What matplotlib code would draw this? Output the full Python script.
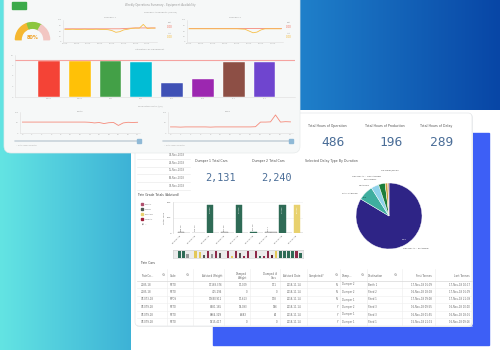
import matplotlib
matplotlib.use('Agg')
import matplotlib.pyplot as plt
import numpy as np
from matplotlib.patches import FancyBboxPatch, Rectangle, Wedge
from matplotlib.colors import LinearSegmentedColormap

# ------------------------------------------------------------ data
util_labels = ['DMP1', 'DMP2', 'SR1', 'SR2', 'RC1', 'RC2', 'SL1', 'SL2']
util_values = [10.3, 10.3, 10.3, 10.1, 4.0, 5.1, 10.1, 10.1]
util_colors = ['#f44336', '#ffc107', '#43a047', '#00bcd4', '#3f51b5', '#9c27b0', '#8d4f45', '#6f45cf']
util_target = 10.6

gauge_value = 80
gauge_bands = [0.0, 0.40, 0.67, 1.0]
gauge_colors = ['#f5b730', '#8cc63f', '#f2c6c2']

d1_target = [60, 60, 60, 60, 60, 60, 60, 60, 60, 60, 60, 60, 60, 60, 60, 61, 62, 63, 64, 64, 64, 64, 64, 64]
d1_actual = [57, 57, 58, 57, 57, 58, 57, 57, 58, 57, 57, 56, 52, 44, 47, 55, 58, 62, 63, 63, 80, 61, 63, 63]
d2_target = [62, 62, 62, 62, 62, 62, 62, 62, 62, 62, 62, 62, 62, 62, 62, 62, 62, 62, 62, 62, 62, 62, 62, 62]
d2_actual = [60, 60, 60, 60, 60, 60, 60, 60, 60, 60, 60, 60, 60, 59, 58, 50, 42, 45, 55, 60, 60, 60, 60, 60]
berth_rate = [52, 52, 52, 52, 52, 52, 52, 52, 52, 52, 52, 52, 52, 52, 51, 48, 50, 45, 49, 50, 36, 48, 51, 50, 51]
shed_rate = [29, 29, 28, 29, 29, 29, 29, 29, 28, 29, 29, 29, 29, 29, 29, 29, 29, 30, 52, 52, 53, 86, 52, 54, 53]

kpi_titles = ['Total Hours of Operation', 'Total Hours of Production', 'Total Hours of Delay']
kpi_values = ['486', '196', '289']
dumper_titles = ['Dumper 1 Total Cars', 'Dumper 2 Total Cars']
dumper_values = ['2,131', '2,240']
date_list = ['03-Nov-2018', '04-Nov-2018', '05-Nov-2018', '06-Nov-2018', '07-Nov-2018']

delay_types = ['OPS DELAY - PLANNED', 'RAIL CARRIER', 'WEATHER', 'EQUIPMENT', 'OPS DELAY - UNPLANNED', 'SJE Delay/Down']
delay_hours = [83.6, 7.5, 3.8, 3.2, 1.3, 0.6]
delay_colors = ['#2e2486', '#3fae9f', '#8fd2ea', '#1b7e3b', '#c9a43c', '#d9957a']

grade_labels = ['CP-003-18', 'CP-003-18', 'CP-088-18', 'CP-096-18', 'CP-071-18',
                'CP-071-18', 'CP-072-18', 'CP-073-18', 'CP-074-18']
grade_tons = [0.5, 0.3, 18.3, 0.6, 18.4, 0.9, 0.4, 18.3, 18.3]
grade_tons_b = [0, 0, 0, 0, 0, 0, 0.8, 0, 0]
grade_type = ['TOTAL', 'TOTAL', 'CORN', 'TOTAL', 'CORN', 'CORN', 'TOTAL', 'CORN', 'POTASH']
grade_text = ['338.18', '245.19', '17,839', '517.28', '17,976', '611.18', '427.7', '17,926', '18,022']
legend_grades = ['TOTAL', 'CORN', 'POTASH', 'WHEAT']
legend_colors = ['#b0506e', '#4f5a55', '#e8d16e', '#a0203a']
bar_colors = {'TOTAL': '#d4d4d4', 'CORN': '#2f6b56', 'POTASH': '#e8d16e'}

mini_vals = [0.0, 0.9, 0.9, 0.5, 0.0, 0.9, 0.8, 0.4, 0.9, 0.5, 0.9, 0.6, 0.0, 0.9, 0.3,
             0.9, 0.6, 0.3, 0.9, 0.0, 0.9, 0.3, 0.2, 0.9, 0.4, 0.9, 0.9, 0.9, 0.9, 0.9, 0.9, 0.6]
mini_cols = ['w', '#2f6b56', '#2f6b56', '#999', 'w', '#e3c85a', '#e3c85a', '#555', '#8e2a4a', '#999',
             '#8e2a4a', '#555', 'w', '#8e2a4a', '#e3c85a', '#8e2a4a', '#555', '#8e2a4a', '#8e2a4a', 'w',
             '#8e2a4a', '#2f6b56', '#8e2a4a', '#8e2a4a', '#5a1a2a', '#e3c85a', '#2f6b56', '#2f6b56',
             '#2f6b56', '#2f6b56', '#8e2a4a', '#2f6b56']

tbl_headers = ['TrainCo...', 'Code', 'Advised Weight', 'Dumped\nWeight', 'Dumped #\nCars', 'Advised Date',
               'Completed?', 'Dump...', 'Destination', 'First Tonnes', 'Last Tonnes']
tbl_rows = [
    ['2185-18', 'RSTO', '17188.376', '17,009', '171', '2018-11-14', 'N', 'Dumper 2', 'Berth 1', '17-Nov-18 01:09', '17-Nov-18 10:17'],
    ['2185-18', 'RSTO', '415.296', '0', '0', '2018-11-14', 'N', 'Dumper 2', 'Shed 2', '16-Nov-18 18:08', '17-Nov-18 01:09'],
    ['CP-073-18', 'MPOS', '17690.912', '17,613', '178', '2018-11-14', 'N', 'Dumper 1', 'Shed 1', '17-Nov-18 09:08', '17-Nov-18 21:09'],
    ['CP-079-18', 'RSTO', '8481.185', '18,093', '186', '2018-11-14', 'Y', 'Dumper 2', 'Shed 3', '16-Nov-18 09:55', '16-Nov-18 10:00'],
    ['CP-079-18', 'RSTO', '8864.329', '6,683', '64', '2018-11-14', 'Y', 'Dumper 1', 'Shed 3', '16-Nov-18 01:55', '16-Nov-18 18:01'],
    ['CP-079-18', 'RSTO', '1815.417', '0', '0', '2018-11-14', 'Y', 'Dumper 1', 'Shed 1', '15-Nov-18 21:15', '16-Nov-18 09:16'],
]

# ------------------------------------------------------------ figure
W, H = 500, 350
fig = plt.figure(figsize=(5, 3.5), dpi=100)


def px_axes(x0, y0, x1, y1):
    return fig.add_axes([x0 / W, 1 - y1 / H, (x1 - x0) / W, (y1 - y0) / H])


bg = fig.add_axes([0, 0, 1, 1])
bg.axis('off')


def hgrad(x0, x1, y0, y1, c0, c1, z=0):
    cmap = LinearSegmentedColormap.from_list('g', [c0, c1])
    bg.imshow(np.linspace(0, 1, 256)[None, :], cmap=cmap, extent=(x0, x1, y1, y0),
              aspect='auto', zorder=z, interpolation='bilinear')


# page background
bg.add_patch(Rectangle((0, 0), W, H, color='white', zorder=-1))
hgrad(0, 131, 0, 350, '#63e4e3', '#3db2d6', z=0)
hgrad(300, 500, 0, 110, '#1f80ca', '#0846a6', z=0)
bg.add_patch(Rectangle((213, 133), 276, 212, color='#3d5ff6', zorder=1))
# card 2
bg.add_patch(FancyBboxPatch((136, 114), 337, 213, boxstyle='round,pad=0,rounding_size=4',
                            fc='#eceef0', ec='none', zorder=2))
bg.add_patch(FancyBboxPatch((135, 113), 337, 213, boxstyle='round,pad=0,rounding_size=4',
                            fc='white', ec='#e4e6e9', lw=0.5, zorder=3))
# card 1
bg.add_patch(FancyBboxPatch((4, -12), 296, 165, boxstyle='round,pad=0,rounding_size=7',
                            fc='#f6f8f8', ec='#e6eaea', lw=0.5, zorder=5))

T = dict(family='DejaVu Sans', zorder=10)

# ---------- card 1 decorations
bg.add_patch(Rectangle((12, 2), 14, 7, color='#3caa4a', zorder=6))
bg.text(160, 5, 'Weekly Operations Summary - Equipment Availability', fontsize=1.9, color='#9a9a9a',
        ha='center', va='center', **T)
bg.text(160, 12.5, 'Dumper Availability (Hours)', fontsize=1.7, color='#a0a0a0', ha='center', va='center', **T)
bg.text(110, 17, 'Dumper 1', fontsize=1.7, color='#a0a0a0', ha='center', va='center', **T)
bg.text(235, 17, 'Dumper 2', fontsize=1.7, color='#a0a0a0', ha='center', va='center', **T)
bg.text(150, 49, 'Utilisation by Equipment', fontsize=1.7, color='#a0a0a0', ha='center', va='center', **T)
bg.text(150, 106, 'Production Rate (t/h)', fontsize=1.7, color='#a0a0a0', ha='center', va='center', **T)
bg.text(80, 111, 'Berth', fontsize=1.7, color='#a0a0a0', ha='center', va='center', **T)
bg.text(228, 111, 'Shed', fontsize=1.7, color='#a0a0a0', ha='center', va='center', **T)
for lx in (170, 289):
    bg.text(lx, 22, 'Tgt', fontsize=1.6, color='#999', ha='center', va='center', **T)
    bg.text(lx, 26.5, '0.00', fontsize=2.0, color='#f26b5b', ha='center', va='center', **T)
    bg.text(lx, 33, 'Act', fontsize=1.6, color='#999', ha='center', va='center', **T)
    bg.text(lx, 37.5, '0.00', fontsize=2.0, color='#f5b730', ha='center', va='center', **T)
# sliders
for sx0, sx1 in ((15, 140), (163, 292)):
    bg.plot([sx0, sx1], [141, 141], color='#c9d3da', lw=1.2, zorder=7, solid_capstyle='round')
    bg.add_patch(Rectangle((sx1 - 3, 139), 4, 4, color='#8fb9d6', zorder=8))
    bg.text(sx0 + 1, 145, '-- Date range selector', fontsize=1.4, color='#aaa', ha='left', va='center', **T)

# ---------- card 2 texts
kpi_x = [327, 385, 436]
for x, t, v in zip(kpi_x, kpi_titles, kpi_values):
    bg.text(x, 126, t, fontsize=2.3, color='#555', ha='center', va='center', **T)
    bg.text(x + 6, 143, v, fontsize=9.3, color='#4b6e98', ha='center', va='center',
            family='DejaVu Sans Mono', zorder=10)
for x, t, v in zip([211, 268], dumper_titles, dumper_values):
    bg.text(x, 161, t, fontsize=2.3, color='#555', ha='center', va='center', **T)
    bg.text(x + 9, 178, v, fontsize=7.3, color='#4b6e98', ha='center', va='center',
            family='DejaVu Sans Mono', zorder=10)
bg.text(305, 161, 'Selected Delay Type By Duration', fontsize=2.3, color='#555', ha='left', va='center', **T)
for i, d in enumerate(date_list):
    y = 155 + i * 7.7
    bg.text(185, y, d, fontsize=1.8, color='#777', ha='right', va='center', **T)
    bg.plot([137, 190], [y + 3.8, y + 3.8], color='#e6e6e6', lw=0.4, zorder=9)
bg.text(137, 195, 'Train Grade Totals (Advised)', fontsize=2.2, color='#444', ha='left', va='center', **T)
for i, (g, c) in enumerate(zip(legend_grades, legend_colors)):
    y = 204 + i * 5
    bg.add_patch(Rectangle((141, y - 1), 2, 2, color=c, zorder=10))
    bg.text(145, y, g, fontsize=1.6, color='#777', ha='left', va='center', **T)
bg.text(144, 224, '\u25BC  \u2013', fontsize=1.6, color='#444', ha='center', va='center', **T)
bg.text(140, 263, 'Train Cars', fontsize=2.2, color='#444', ha='left', va='center', **T)

# pie labels
pie_lab = [(390, 170, 'SJE Delay/Down', 'center'), (367, 176, 'OPS DELAY - UNPLANNED', 'center'),
           (370, 180, 'EQUIPMENT', 'center'), (364, 185, 'WEATHER', 'center'),
           (350, 193, 'RAIL CARRIER', 'center'), (416, 248, 'OPS DELAY - PLANNED', 'center')]
for x, y, t, ha in pie_lab:
    bg.text(x, y, t, fontsize=1.6, color='#555', ha=ha, va='center', **T)

# table
col_l = [141, 170, None, None, None, 287, None, 342, 368, None, None]
col_r = [None, None, 222, 247, 277, None, 338, None, None, 432, 470]
hdr_pos = [(141, 'left'), (170, 'left'), (222, 'right'), (247, 'right'), (277, 'right'), (283, 'left'),
           (309, 'left'), (342, 'left'), (368, 'left'), (432, 'right'), (470, 'right')]
for (x, ha), h in zip(hdr_pos, tbl_headers):
    bg.text(x, 276, h, fontsize=1.9, color='#666', ha=ha, va='center', linespacing=1.2, **T)
# search icons (drawn as small magnifier shapes)
for sx in (163, 187, 336, 362, 395):
    bg.plot([sx], [274], marker='o', ms=1.3, mfc='none', mec='#888', mew=0.3, zorder=10)
    bg.plot([sx + 0.6, sx + 1.3], [274.7, 275.5], color='#888', lw=0.3, zorder=10)
for dx in (167, 193, 224, 250, 280, 307, 340, 367, 402, 435):
    bg.plot([dx, dx], [269, 326], color='#ececec', lw=0.4, zorder=9)
bg.plot([137, 472], [281, 281], color='#d8d8d8', lw=0.5, zorder=9)
for r, row in enumerate(tbl_rows):
    y = 284.5 + r * 7.5
    bg.plot([137, 472], [y + 3.7, y + 3.7], color='#eeeeee', lw=0.4, zorder=9)
    for c, val in enumerate(row):
        if col_l[c] is not None:
            bg.text(col_l[c], y, val, fontsize=1.8, color='#666', ha='left', va='center', **T)
        else:
            bg.text(col_r[c], y, val, fontsize=1.8, color='#666', ha='right', va='center', **T)

bg.set_xlim(0, W)
bg.set_ylim(H, 0)

# ------------------------------------------------------------ card 1 charts
tick_kw = dict(labelsize=1.5, colors='#b0b0b0', length=0, pad=1)


def faint_axes(ax):
    ax.set_facecolor('none')
    for s in ('top', 'right'):
        ax.spines[s].set_visible(False)
    for s in ('left', 'bottom'):
        ax.spines[s].set_color('#dddddd')
        ax.spines[s].set_linewidth(0.4)
    ax.tick_params(**tick_kw)
    ax.set_zorder(20)


# gauge
gax = px_axes(12, 20, 53, 44)
gax.set_xlim(-1.2, 1.2)
gax.set_ylim(-0.25, 1.15)
gax.axis('off')
gax.set_zorder(20)
for i in range(3):
    a0 = 180 - gauge_bands[i + 1] * 180
    a1 = 180 - gauge_bands[i] * 180
    gax.add_patch(Wedge((0, 0), 1.0, a0, a1, width=0.33, color=gauge_colors[i]))
gax.text(0, 0.12, f'{gauge_value}%', fontsize=3.6, color='#f0a020', ha='center', va='center', fontweight='bold')

# top line charts
for (x0, x1), tgt, act in (((63, 157), d1_target, d1_actual), ((187, 283), d2_target, d2_actual)):
    ax = px_axes(x0, 20, x1, 42)
    faint_axes(ax)
    xs = np.arange(len(tgt))
    ax.plot(xs, tgt, color='#f58a7a', lw=0.6)
    ax.plot(xs, act, color='#f7c04a', lw=0.6)
    ax.set_ylim(0, 100)
    ax.set_xlim(-0.5, len(tgt) - 0.5)
    ax.set_xticks(xs[::3])
    ax.set_xticklabels([f'{h:02d}:00' for h in xs[::3]])
    ax.set_yticks([0, 25, 50, 75, 100])

# utilisation bars
uax = px_axes(15, 55, 295, 97)
faint_axes(uax)
ux = np.arange(len(util_values))
uax.bar(ux, util_values, width=0.71, color=util_colors, edgecolor='#ffffff', lw=0.3)
uax.axhline(util_target, color='#f5a3a0', lw=0.8)
uax.set_xlim(-1.1, 7.99)
uax.set_ylim(0, 12)
uax.set_xticks(ux)
uax.set_xticklabels(util_labels)
uax.set_yticks([0, 3, 6, 9, 12])

# bottom line charts
for (x0, x1), vals in (((20, 140), berth_rate), ((168, 293), shed_rate)):
    ax = px_axes(x0, 112, x1, 133)
    faint_axes(ax)
    xs = np.arange(len(vals))
    ax.plot(xs, vals, color='#f58a7a', lw=0.6)
    ax.set_ylim(0, 100)
    ax.set_xlim(-0.5, len(vals) - 0.5)
    ax.set_xticks(xs[::2])
    ax.set_xticklabels([f'{d}' for d in xs[::2]])
    ax.set_yticks([0, 50, 100])

# ------------------------------------------------------------ card 2 charts
# pie
pax = px_axes(356, 183, 422, 249)
pax.set_zorder(20)
pax.pie(delay_hours, colors=delay_colors, startangle=90, counterclock=False, radius=1,
        wedgeprops=dict(edgecolor='white', linewidth=0.3))
pax.set_xlim(-1, 1)
pax.set_ylim(-1, 1)
pax.set_aspect('equal')
pax.text(0.47, -0.72, f'{delay_hours[0]:.1f}', fontsize=1.6, color='white', ha='center', va='center')
pax.text(-0.72, 0.57, 'TLR', fontsize=1.6, color='#1a4a44', ha='center', va='center')

# grade bars
bax = px_axes(173, 202, 303, 233)
bax.set_facecolor('none')
bax.set_zorder(20)
gx = np.arange(len(grade_tons))
cols = [bar_colors[t] for t in grade_type]
bax.bar(gx, grade_tons, width=0.42, color=cols, edgecolor=['#888' if t == 'TOTAL' else c for t, c in zip(grade_type, cols)],
        lw=0.3)
bax.bar(gx + 0.42, grade_tons_b, width=0.42, color='#d4d4d4', edgecolor='#888', lw=0.3)
for i, (v, t) in enumerate(zip(grade_tons, grade_text)):
    if v > 5:
        bax.text(i, v - 0.6, t, rotation=90, fontsize=1.5, color='white', ha='center', va='top')
    else:
        bax.text(i, v + 0.8, t, rotation=90, fontsize=1.5, color='#666', ha='center', va='bottom')
bax.set_xlim(-0.55, 8.41)
bax.set_ylim(0, 20.2)
bax.set_yticks([0, 10, 20])
bax.set_yticklabels(['0', '10k', '20k'])
bax.set_xticks(gx)
bax.set_xticklabels(grade_labels, rotation=45, ha='right', rotation_mode='anchor')
bax.tick_params(axis='both', labelsize=1.7, colors='#666', length=0, pad=1.5)
bax.grid(axis='y', color='#eeeeee', lw=0.4)
bax.set_axisbelow(True)
for s in ('top', 'right', 'bottom'):
    bax.spines[s].set_visible(False)
bax.spines['left'].set_color('#cccccc')
bax.spines['left'].set_linewidth(0.4)
bax.set_ylabel('Total Tons', fontsize=1.7, color='#666', labelpad=1)

# mini scroll bar
max_ = px_axes(173, 250, 303, 258)
max_.set_zorder(20)
max_.set_facecolor('#ececec')
mx = np.arange(len(mini_vals))
max_.bar(mx, mini_vals, width=0.55, color=mini_cols)
max_.set_xlim(-0.6, len(mini_vals) - 0.4)
max_.set_ylim(0, 1)
max_.set_xticks([])
max_.set_yticks([])
for s in max_.spines.values():
    s.set_color('#cccccc')
    s.set_linewidth(0.4)

fig.savefig('out.png', dpi=100)
